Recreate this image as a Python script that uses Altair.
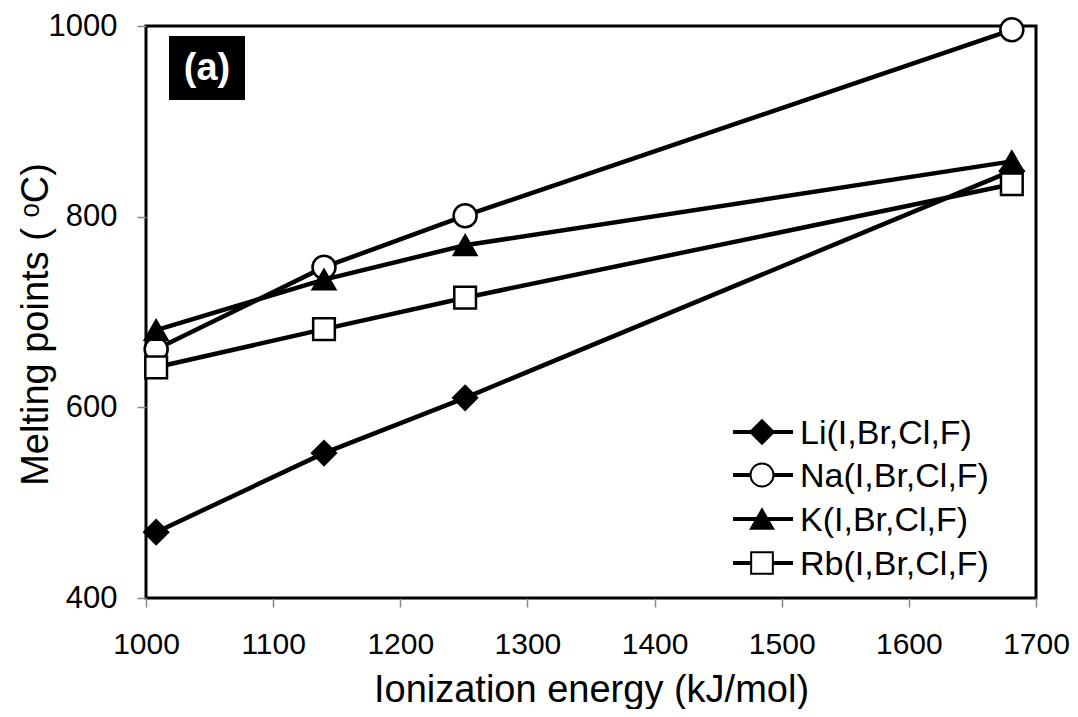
import altair as alt
import pandas as pd

# ---- data ----
ionization = [1008, 1140, 1251, 1681]          # I, Br, Cl, F (kJ/mol)
anions = ["I", "Br", "Cl", "F"]
series_names = ["Li(I,Br,Cl,F)", "Na(I,Br,Cl,F)", "K(I,Br,Cl,F)", "Rb(I,Br,Cl,F)"]
li_mp = [469, 552, 610, 848]
na_mp = [661, 747, 801, 996]
k_mp = [681, 734, 770, 858]
rb_mp = [642, 682, 715, 834]

x_ticks = [1000, 1100, 1200, 1300, 1400, 1500, 1600, 1700]
y_ticks = [400, 600, 800, 1000]

# ---- styles ----
shapes = ["diamond", "circle", "triangle-up", "square"]
fills = ["black", "white", "black", "white"]
sizes = [560, 470, 430, 300]
legend_sizes = [360, 300, 300, 190]

FONT = "Liberation Sans"

rows = []
for name, vals in zip(series_names, [li_mp, na_mp, k_mp, rb_mp]):
    for xv, yv, an in zip(ionization, vals, anions):
        rows.append({"series": name, "x": xv, "y": yv, "anion": an})
df = pd.DataFrame(rows)

# legend layout (in data units, placed through the chart scales)
leg_x1, leg_x2, leg_xm, leg_xt = 1461.7, 1508.9, 1484.5, 1514.4
leg_y = [574.1, 529.0, 482.9, 436.7]
leg_df = pd.DataFrame({
    "series": series_names,
    "x1": [leg_x1] * 4,
    "x2": [leg_x2] * 4,
    "xm": [leg_xm] * 4,
    "xt": [leg_xt] * 4,
    "ly": leg_y,
})

xscale = alt.Scale(domain=[1000, 1700], nice=False, zero=False)
yscale = alt.Scale(domain=[400, 1000], nice=False, zero=False)
XT = "Ionization energy (kJ/mol)"
YT = "Melting points ( ᵒC)"

shape_sc = alt.Scale(domain=series_names, range=shapes)
fill_sc = alt.Scale(domain=series_names, range=fills)

lines = alt.Chart(df).mark_line(color="black", strokeWidth=4.5).encode(
    x=alt.X("x:Q", scale=xscale, title=XT,
            axis=alt.Axis(values=x_ticks, format="d", labelPadding=22, titleY=103,
                          labelFontSize=30, titleBaseline="alphabetic")),
    y=alt.Y("y:Q", scale=yscale, title=YT,
            axis=alt.Axis(values=y_ticks, format="d", labelPadding=20, titleX=-99, titleY=298,
                          titleBaseline="alphabetic", titleAlign="center", titleAngle=270)),
    detail="series:N",
    order="x:Q",
)

points = alt.Chart(df).mark_point(stroke="black", strokeWidth=2.5, opacity=1).encode(
    x=alt.X("x:Q", scale=xscale, title=XT),
    y=alt.Y("y:Q", scale=yscale, title=YT),
    shape=alt.Shape("series:N", scale=shape_sc, legend=None),
    fill=alt.Fill("series:N", scale=fill_sc, legend=None),
    size=alt.Size("series:N", scale=alt.Scale(domain=series_names, range=sizes), legend=None),
)

leg_lines = alt.Chart(leg_df).mark_rule(color="black", strokeWidth=4).encode(
    x=alt.X("x1:Q", scale=xscale, title=XT),
    x2="x2:Q",
    y=alt.Y("ly:Q", scale=yscale, title=YT),
)

leg_pts = alt.Chart(leg_df).mark_point(stroke="black", strokeWidth=2, opacity=1).encode(
    x=alt.X("xm:Q", scale=xscale, title=XT),
    y=alt.Y("ly:Q", scale=yscale, title=YT),
    shape=alt.Shape("series:N", scale=shape_sc, legend=None),
    fill=alt.Fill("series:N", scale=fill_sc, legend=None),
    size=alt.Size("series:N", scale=alt.Scale(domain=series_names, range=legend_sizes), legend=None),
)

leg_text = alt.Chart(leg_df).mark_text(
    align="left", baseline="middle", font=FONT, fontSize=34, color="black", dy=2
).encode(
    x=alt.X("xt:Q", scale=xscale, title=XT),
    y=alt.Y("ly:Q", scale=yscale, title=YT),
    text="series:N",
)

tag_box = alt.Chart(alt.Data(values=[{}])).mark_rect(color="black").encode(
    x=alt.value(23), x2=alt.value(99), y=alt.value(10), y2=alt.value(74)
)
tag_text = alt.Chart(alt.Data(values=[{"t": "(a)"}])).mark_text(
    font=FONT, fontSize=38, fontWeight="bold", color="white",
    align="center", baseline="middle", dy=1
).encode(x=alt.value(61), y=alt.value(42), text="t:N")

chart = alt.layer(lines, points, leg_lines, leg_pts, leg_text, tag_box, tag_text).properties(
    width=890, height=572,
    autosize=alt.AutoSizeParams(type="none"),
    padding={"left": 138, "top": 18, "right": 34, "bottom": 111},
).configure_view(
    stroke="black", strokeWidth=3
).configure_axis(
    domain=False, grid=False, ticks=True, tickColor="#888888", tickWidth=1.5, tickSize=9,
    labelFont=FONT, labelFontSize=31, labelColor="black", labelFlush=False, labelOverlap=False,
    titleFont=FONT, titleFontSize=38, titleFontWeight="normal", titleColor="black",
)

chart.save("out.html", embed_options={"renderer": "svg", "actions": False})
